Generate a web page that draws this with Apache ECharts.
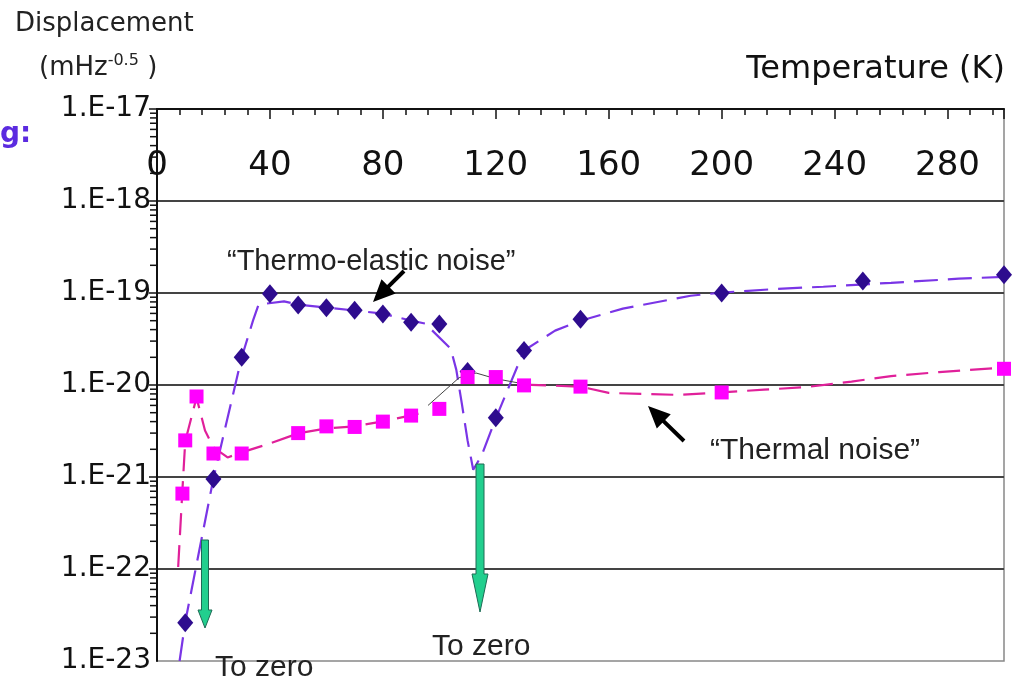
<!DOCTYPE html>
<html><head><meta charset="utf-8">
<script src="https://cdn.jsdelivr.net/npm/echarts@6/dist/echarts.min.js"></script>
<style>html,body{margin:0;padding:0;background:#fff}#c{width:1023px;height:676px}</style>
</head><body><div id="c"></div>
<script>
// ---- data ----
const xTicks = [0, 40, 80, 120, 160, 200, 240, 280];
const yDecades = [-23, -22, -21, -20, -19, -18, -17];
const minorMultipliers = [2, 3, 4, 5, 6, 7, 8, 9];

// Thermo-elastic noise: computed points (diamonds)
const teT = [10, 20, 30, 40, 50, 60, 70, 80, 90, 100, 110, 120, 130, 150, 200, 250, 300];
const teV = [2.6e-23, 9.5e-22, 2.0e-20, 9.8e-20, 7.4e-20, 6.9e-20, 6.5e-20, 5.9e-20, 4.8e-20, 4.6e-20, 1.4e-20, 4.4e-21, 2.37e-20, 5.2e-20, 1.0e-19, 1.35e-19, 1.58e-19];
// Thermo-elastic noise: curve (dashed)
const teCurveT = [8, 10, 20, 30, 34, 36, 45, 50, 60, 70, 80, 90, 95, 104, 106, 108, 110, 112, 115, 120, 130, 141, 150, 165, 189, 200, 220, 236, 260, 284, 300];
const teCurveV = [1.0e-23, 2.65e-23, 9.7e-22, 2.0e-20, 5.0e-20, 7.5e-20, 8.1e-20, 7.47e-20, 6.93e-20, 6.45e-20, 5.97e-20, 5.01e-20, 4.65e-20, 2.49e-20, 1.47e-20, 6.2e-21, 2.5e-21, 1.2e-21, 1.72e-21, 4.34e-21, 2.37e-20, 3.9e-20, 5.0e-20, 6.76e-20, 9.33e-20, 1.01e-19, 1.11e-19, 1.17e-19, 1.29e-19, 1.43e-19, 1.5e-19];

// Thermal noise: computed points (squares)
const thT = [9, 10, 14, 20, 30, 50, 60, 70, 80, 90, 100, 110, 120, 130, 150, 200, 300];
const thV = [6.6e-22, 2.5e-21, 7.5e-21, 1.8e-21, 1.8e-21, 3.0e-21, 3.55e-21, 3.5e-21, 4.0e-21, 4.65e-21, 5.5e-21, 1.22e-20, 1.22e-20, 9.9e-21, 9.6e-21, 8.3e-21, 1.5e-20];
// Thermal noise: curve (dashed), low-T part and high-T part
const thCurveLowT = [7.5, 9, 10, 14, 17, 20, 25, 30, 39, 50, 60, 70, 80, 90, 95];
const thCurveLowV = [1.05e-22, 7.2e-22, 2.44e-21, 7.3e-21, 3.2e-21, 2.1e-21, 1.63e-21, 1.85e-21, 2.26e-21, 2.98e-21, 3.37e-21, 3.55e-21, 4.02e-21, 4.67e-21, 5.1e-21];
const thCurveHighT = [130, 150, 160, 185, 200, 215, 230, 246, 260, 277, 300];
const thCurveHighV = [1.01e-20, 9.6e-21, 8.2e-21, 7.8e-21, 8.3e-21, 8.9e-21, 9.5e-21, 1.09e-20, 1.25e-20, 1.38e-20, 1.55e-20];
// thin dark connecting curve around the 120 K crossing
const midCurveT = [96, 107, 113, 120, 129];
const midCurveV = [6.0e-21, 1.2e-20, 1.35e-20, 1.17e-20, 1.04e-20];

const pairs = (xs, ys) => xs.map((x, i) => [x, ys[i]]);
const minorTickValues = [];
yDecades.slice(0, -1).forEach(d => minorMultipliers.forEach(m => minorTickValues.push([0, m * Math.pow(10, d)])));
const yLabel = d => '1.E' + d;

const FONT = 'DejaVu Sans';

function arrowPoly(x1, y1, x2, y2, shaftW, headW, headL) {
  const dx = x2 - x1, dy = y2 - y1, L = Math.hypot(dx, dy);
  const ux = dx / L, uy = dy / L, px = -uy, py = ux;
  const bx = x2 - ux * headL, by = y2 - uy * headL;
  const s = shaftW / 2, h = headW / 2;
  return [
    [x1 + px * s, y1 + py * s], [bx + px * s, by + py * s], [bx + px * h, by + py * h],
    [x2, y2],
    [bx - px * h, by - py * h], [bx - px * s, by - py * s], [x1 - px * s, y1 - py * s]
  ];
}

const chart = echarts.init(document.getElementById('c'));
chart.setOption({
  animation: false,
  backgroundColor: '#fff',
  grid: { left: 157, right: 19, top: 109, bottom: 15, containLabel: false, outerBoundsMode: 'none',
          show: true, borderColor: '#888', borderWidth: 1.5, backgroundColor: 'transparent' },
  xAxis: {
    type: 'value', position: 'top', min: 0, max: 300, interval: 40,
    axisLine: { show: true, onZero: false, lineStyle: { color: '#111', width: 2 } },
    axisTick: { show: true, inside: true, length: 10, lineStyle: { color: '#111', width: 1.5 } },
    minorTick: { show: true, splitNumber: 5, length: 6, lineStyle: { color: '#111', width: 1.5 } },
    splitLine: { show: false },
    axisLabel: {
      inside: true, margin: 40, showMaxLabel: false,
      fontFamily: FONT, fontSize: 34, color: '#111',
      formatter: v => (xTicks.indexOf(v) >= 0 ? String(v) : '')
    }
  },
  yAxis: {
    type: 'log', logBase: 10, min: 1e-23, max: 1e-17,
    axisLine: { show: true, lineStyle: { color: '#111', width: 2 } },
    axisTick: { show: true, inside: false, length: 8, lineStyle: { color: '#111', width: 1.5 } },
    minorTick: { show: false },
    splitLine: { show: true, lineStyle: { color: '#444', width: 2 } },
    axisLabel: {
      margin: 6, fontFamily: FONT, fontSize: 28, color: '#111', showMinLabel: false, showMaxLabel: true, hideOverlap: false,
      formatter: v => yLabel(Math.round(Math.log10(v)))
    }
  },
  series: [
    {
      type: 'custom', silent: true, clip: false, z: 6,
      data: minorTickValues,
      renderItem: (params, api) => {
        const p = api.coord([0, api.value(1)]);
        return { type: 'line', shape: { x1: p[0] - 7, y1: p[1], x2: p[0], y2: p[1] }, style: { stroke: '#111', lineWidth: 1.5 } };
      }
    },
    {
      // bottom tick label (min of the log axis), drawn at its axis position
      type: 'custom', silent: true, clip: false, z: 6,
      data: [[0, Math.pow(10, yDecades[0])]],
      renderItem: (params, api) => {
        const p = api.coord([0, api.value(1)]);
        return { type: 'text', x: p[0] - 6, y: p[1], style: { text: yLabel(yDecades[0]), font: '28px "DejaVu Sans"', fill: '#111', align: 'right', verticalAlign: 'middle' } };
      }
    },
    {
      name: 'Thermo-elastic curve', type: 'line', data: pairs(teCurveT, teCurveV), showSymbol: false, z: 3,
      lineStyle: { color: '#7A35E6', width: 2.2, type: [24, 10] }
    },
    {
      name: 'Thermal curve low', type: 'line', data: pairs(thCurveLowT, thCurveLowV), showSymbol: false, z: 3,
      lineStyle: { color: '#E0209A', width: 2.2, type: [22, 10] }
    },
    {
      name: 'Thermal curve high', type: 'line', data: pairs(thCurveHighT, thCurveHighV), showSymbol: false, z: 3,
      lineStyle: { color: '#E0209A', width: 2.2, type: [22, 10] }
    },
    {
      name: 'mid', type: 'line', data: pairs(midCurveT, midCurveV), showSymbol: false, z: 3,
      lineStyle: { color: '#444', width: 1 }
    },
    {
      name: 'Thermo-elastic', type: 'scatter', data: pairs(teT, teV), z: 4,
      symbol: 'diamond', symbolSize: [16, 19], itemStyle: { color: '#2E0C8E', opacity: 1 }
    },
    {
      name: 'Thermal', type: 'scatter', data: pairs(thT, thV), z: 5,
      symbol: 'rect', symbolSize: 14, itemStyle: { color: '#FF00FF', opacity: 1 }
    }
  ],
  graphic: [
    { type: 'text', left: 15, top: 11, style: { text: 'Displacement', font: '26px "DejaVu Sans"', fill: '#222' } },
    { type: 'text', left: 39, top: 53, style: {
        text: '{a|(mHz}{s|-0.5}{a| )}', fill: '#222',
        rich: { a: { font: '26px "DejaVu Sans"', fill: '#222' }, s: { font: '16px "DejaVu Sans"', fill: '#222', verticalAlign: 'top', padding: [0, 0, 14, 0] } }
      } },
    { type: 'text', x: 1005, y: 70, style: { text: 'Temperature (K)', font: '32px "DejaVu Sans"', fill: '#111', align: 'right', verticalAlign: 'middle' } },
    { type: 'text', x: 0, y: 135, style: { text: 'g:', font: 'bold 28px "DejaVu Sans"', fill: '#5B2BE0', verticalAlign: 'middle' } },
    { type: 'text', x: 227, y: 262, style: { text: '\u201CThermo-elastic noise\u201D', font: '29px "Liberation Sans"', fill: '#222', verticalAlign: 'middle' } },
    { type: 'text', x: 710, y: 451, style: { text: '\u201CThermal noise\u201D', font: '30px "Liberation Sans"', fill: '#222', verticalAlign: 'middle' } },
    { type: 'text', x: 432, y: 647, style: { text: 'To zero', font: '30px "Liberation Sans"', fill: '#222', verticalAlign: 'middle' } },
    { type: 'text', x: 215, y: 668, style: { text: 'To zero', font: '30px "Liberation Sans"', fill: '#222', verticalAlign: 'middle' } },
    { type: 'polygon', z: 100, shape: { points: arrowPoly(404, 271, 373, 302, 4, 20, 22) }, style: { fill: '#000' } },
    { type: 'polygon', z: 100, shape: { points: arrowPoly(684, 441, 648, 406, 4, 20, 22) }, style: { fill: '#000' } },
    { type: 'polygon', z: 100, shape: { points: arrowPoly(205, 540, 205, 628, 7, 14, 18) }, style: { fill: '#22CF8E', stroke: '#1E6B55', lineWidth: 1 } },
    { type: 'polygon', z: 100, shape: { points: arrowPoly(480, 464, 480, 612, 8, 16, 38) }, style: { fill: '#22CF8E', stroke: '#1E6B55', lineWidth: 1 } }
  ]
});
</script></body></html>
